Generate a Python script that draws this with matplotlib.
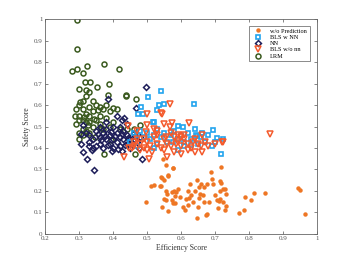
import matplotlib
matplotlib.use("Agg")
import matplotlib.pyplot as plt

plt.rcParams['font.family'] = ['Liberation Serif', 'DejaVu Serif']

# w/o Prediction
wo_x = [0.687, 0.718, 0.648, 0.626, 0.693, 0.714, 0.717, 0.652, 0.676, 0.667,
        0.731, 0.724, 0.716, 0.621, 0.656, 0.665, 0.653, 0.628, 0.615, 0.623,
        0.634, 0.621, 0.732, 0.707, 0.716, 0.711, 0.724, 0.682, 0.667, 0.733,
        0.708, 0.731, 0.651, 0.612, 0.676, 0.673, 0.646, 0.771, 0.786, 0.790,
        0.806, 0.814, 0.847, 0.945, 0.951, 0.965, 0.582, 0.582, 0.547, 0.555,
        0.575, 0.540, 0.550, 0.561, 0.513, 0.520, 0.537, 0.555, 0.559, 0.551,
        0.555, 0.545, 0.561, 0.496, 0.573, 0.580, 0.586, 0.574, 0.575, 0.577,
        0.562, 0.543, 0.540, 0.598, 0.605, 0.592, 0.640, 0.660, 0.690, 0.700]
wo_y = [0.286, 0.310, 0.252, 0.232, 0.233, 0.247, 0.235, 0.216, 0.230, 0.216,
        0.210, 0.207, 0.198, 0.200, 0.185, 0.179, 0.167, 0.179, 0.163, 0.165,
        0.148, 0.132, 0.184, 0.157, 0.162, 0.151, 0.146, 0.146, 0.146, 0.129,
        0.120, 0.111, 0.126, 0.111, 0.093, 0.087, 0.075, 0.098, 0.111, 0.171,
        0.159, 0.190, 0.191, 0.213, 0.205, 0.092, 0.176, 0.143, 0.347, 0.322,
        0.306, 0.266, 0.250, 0.272, 0.224, 0.226, 0.224, 0.199, 0.185, 0.160,
        0.157, 0.123, 0.107, 0.149, 0.194, 0.199, 0.194, 0.156, 0.143, 0.305,
        0.271, 0.260, 0.222, 0.172, 0.125, 0.210, 0.198, 0.230, 0.255, 0.180]

# BLS w NN
bw_x = [0.540, 0.503, 0.535, 0.551, 0.482, 0.528, 0.487, 0.637, 0.516, 0.590,
        0.695, 0.662, 0.648, 0.707, 0.575, 0.718, 0.645, 0.472, 0.519,
        0.46, 0.47, 0.48, 0.49, 0.50, 0.51, 0.52, 0.53, 0.54, 0.55, 0.56, 0.57,
        0.58, 0.59, 0.60, 0.61, 0.62, 0.63, 0.64, 0.65, 0.66, 0.67, 0.68, 0.69,
        0.70, 0.605, 0.61, 0.53, 0.45, 0.47, 0.59, 0.52, 0.725, 0.63]
bw_y = [0.667, 0.639, 0.602, 0.606, 0.592, 0.577, 0.557, 0.606, 0.521, 0.502,
        0.484, 0.471, 0.457, 0.445, 0.426, 0.372, 0.462, 0.557, 0.520,
        0.47, 0.46, 0.48, 0.45, 0.47, 0.44, 0.46, 0.49, 0.45, 0.47, 0.43, 0.46,
        0.48, 0.44, 0.46, 0.43, 0.47, 0.44, 0.49, 0.42, 0.45, 0.43, 0.46, 0.41,
        0.43, 0.50, 0.41, 0.42, 0.43, 0.41, 0.39, 0.40, 0.44, 0.415]

# NN
nn_x = [0.496, 0.386, 0.468, 0.412, 0.431, 0.310, 0.426, 0.305, 0.305, 0.312,
        0.324, 0.343, 0.338, 0.396, 0.427, 0.486, 0.40,
        0.33, 0.34, 0.35, 0.36, 0.36, 0.37, 0.37, 0.38, 0.38, 0.39, 0.39, 0.40,
        0.40, 0.41, 0.41, 0.42, 0.42, 0.43, 0.43, 0.44, 0.44, 0.45, 0.45, 0.46,
        0.47, 0.48, 0.35, 0.34, 0.33, 0.355, 0.365, 0.375, 0.385, 0.395, 0.405,
        0.415, 0.425, 0.435, 0.445, 0.455, 0.465, 0.475, 0.32, 0.33, 0.42, 0.44,
        0.38, 0.36]
nn_y = [0.686, 0.628, 0.588, 0.549, 0.538, 0.509, 0.530, 0.464, 0.418, 0.383,
        0.348, 0.296, 0.392, 0.386, 0.386, 0.348, 0.50,
        0.46, 0.44, 0.48, 0.42, 0.45, 0.47, 0.40, 0.44, 0.49, 0.42, 0.46, 0.44,
        0.40, 0.47, 0.43, 0.45, 0.41, 0.48, 0.44, 0.46, 0.42, 0.44, 0.40, 0.47,
        0.43, 0.45, 0.41, 0.40, 0.43, 0.465, 0.435, 0.455, 0.415, 0.475, 0.455,
        0.395, 0.465, 0.415, 0.445, 0.425, 0.455, 0.40, 0.47, 0.41, 0.50, 0.51,
        0.52, 0.50]

# BLS w/o nn
bo_x = [0.567, 0.499, 0.540, 0.623, 0.550, 0.574, 0.501, 0.528, 0.567, 0.497,
        0.862, 0.723, 0.661, 0.722, 0.662, 0.433, 0.506, 0.448, 0.445, 0.543,
        0.46, 0.47, 0.48, 0.49, 0.50, 0.51, 0.52, 0.53, 0.54, 0.55, 0.56, 0.57,
        0.58, 0.59, 0.60, 0.61, 0.62, 0.63, 0.64, 0.65, 0.66, 0.67, 0.68, 0.70,
        0.55, 0.58, 0.60, 0.62, 0.64, 0.53, 0.57, 0.60, 0.52, 0.47, 0.46, 0.455,
        0.515, 0.56, 0.48, 0.50, 0.59, 0.61, 0.635, 0.555, 0.585, 0.49]
bo_y = [0.604, 0.557, 0.562, 0.518, 0.512, 0.515, 0.507, 0.479, 0.496, 0.476,
        0.465, 0.429, 0.460, 0.426, 0.380, 0.359, 0.347, 0.398, 0.502, 0.557,
        0.41, 0.44, 0.42, 0.40, 0.43, 0.41, 0.45, 0.42, 0.40, 0.44, 0.42, 0.41,
        0.45, 0.43, 0.41, 0.44, 0.42, 0.40, 0.44, 0.42, 0.41, 0.43, 0.41, 0.42,
        0.39, 0.38, 0.37, 0.39, 0.38, 0.46, 0.47, 0.45, 0.49, 0.48, 0.43, 0.40,
        0.38, 0.36, 0.39, 0.39, 0.46, 0.46, 0.43, 0.45, 0.42, 0.44]

# LRM
lr_x = [0.294, 0.294, 0.279, 0.294, 0.310, 0.324, 0.374, 0.417, 0.317, 0.332,
        0.389, 0.299, 0.320, 0.351, 0.385, 0.437, 0.437, 0.467, 0.302, 0.289,
        0.400, 0.479, 0.374, 0.395, 0.464, 0.346,
        0.30, 0.31, 0.30, 0.31, 0.32, 0.32, 0.33, 0.33, 0.34, 0.34, 0.35, 0.35,
        0.36, 0.36, 0.37, 0.37, 0.38, 0.39, 0.31, 0.29, 0.30, 0.32, 0.33, 0.34,
        0.36, 0.38, 0.41, 0.32, 0.33, 0.31, 0.29, 0.30, 0.315, 0.325, 0.345,
        0.355, 0.365, 0.40, 0.42, 0.39, 0.44, 0.46, 0.31, 0.30, 0.33]
lr_y = [0.995, 0.860, 0.757, 0.770, 0.751, 0.784, 0.793, 0.768, 0.709, 0.708,
        0.698, 0.673, 0.670, 0.683, 0.648, 0.648, 0.640, 0.627, 0.616, 0.547,
        0.588, 0.507, 0.372, 0.437, 0.370, 0.450,
        0.60, 0.58, 0.55, 0.53, 0.56, 0.52, 0.59, 0.55, 0.50, 0.57, 0.53, 0.60,
        0.55, 0.51, 0.58, 0.49, 0.54, 0.57, 0.49, 0.51, 0.47, 0.48, 0.52, 0.62,
        0.59, 0.60, 0.58, 0.64, 0.66, 0.62, 0.58, 0.53, 0.545, 0.505, 0.535,
        0.575, 0.495, 0.52, 0.49, 0.50, 0.49, 0.49, 0.46, 0.44, 0.47]

fig = plt.figure(figsize=(3.5, 2.63), dpi=100)
ax = fig.add_axes([0.1294, 0.1114, 0.7756, 0.8152])

ax.plot(wo_x, wo_y, 'o', color='#ee7624', markersize=3.2, mew=0,
        label='w/o Prediction')
ax.plot(lr_x, lr_y, 'o', mfc='none', mec='#3b5a1f', markersize=3.6, mew=1.1,
        label='LRM', zorder=2)
ax.plot(nn_x, nn_y, 'D', mfc='none', mec='#1e1e5a', markersize=3.0, mew=1.1,
        label='NN', zorder=3)
ax.plot(bw_x, bw_y, 's', mfc='none', mec='#22a4ee', markersize=3.2, mew=1.2,
        label='BLS w NN', zorder=3)
ax.plot(bo_x, bo_y, 'v', mfc='none', mec='#f45a2c', markersize=4.2, mew=1.1,
        label='BLS w/o nn', zorder=4)

ax.set_xlim(0.2, 1)
ax.set_ylim(0, 1)
ax.set_xticks([0.2, 0.3, 0.4, 0.5, 0.6, 0.7, 0.8, 0.9, 1])
ax.set_xticklabels(['0.2', '0.3', '0.4', '0.5', '0.6', '0.7', '0.8', '0.9', '1'])
ax.set_yticks([0, 0.1, 0.2, 0.3, 0.4, 0.5, 0.6, 0.7, 0.8, 0.9, 1])
ax.set_yticklabels(['0', '0.1', '0.2', '0.3', '0.4', '0.5', '0.6', '0.7',
                    '0.8', '0.9', '1'])
ax.tick_params(direction='in', length=2.5, width=0.5, labelsize=5,
               colors='#555555', top=True, right=True, pad=2)
for s in ax.spines.values():
    s.set_linewidth(0.6)
    s.set_color('#666666')
ax.set_xlabel('Efficiency Score', fontsize=5.5, color='#333333', labelpad=2)
ax.set_ylabel('Safety Score', fontsize=5.5, color='#333333', labelpad=2)

h, l = ax.get_legend_handles_labels()
order = ['w/o Prediction', 'BLS w NN', 'NN', 'BLS w/o nn', 'LRM']
hh = [h[l.index(o)] for o in order]
leg = ax.legend(hh, order, loc='upper right', fontsize=4.5, frameon=True,
                fancybox=False, edgecolor='#555555', handlelength=2.2,
                borderpad=0.4, labelspacing=0.15, handletextpad=0.8,
                bbox_to_anchor=(0.985, 0.985))
leg.get_frame().set_linewidth(0.6)

fig.savefig('out.png', dpi=100)
